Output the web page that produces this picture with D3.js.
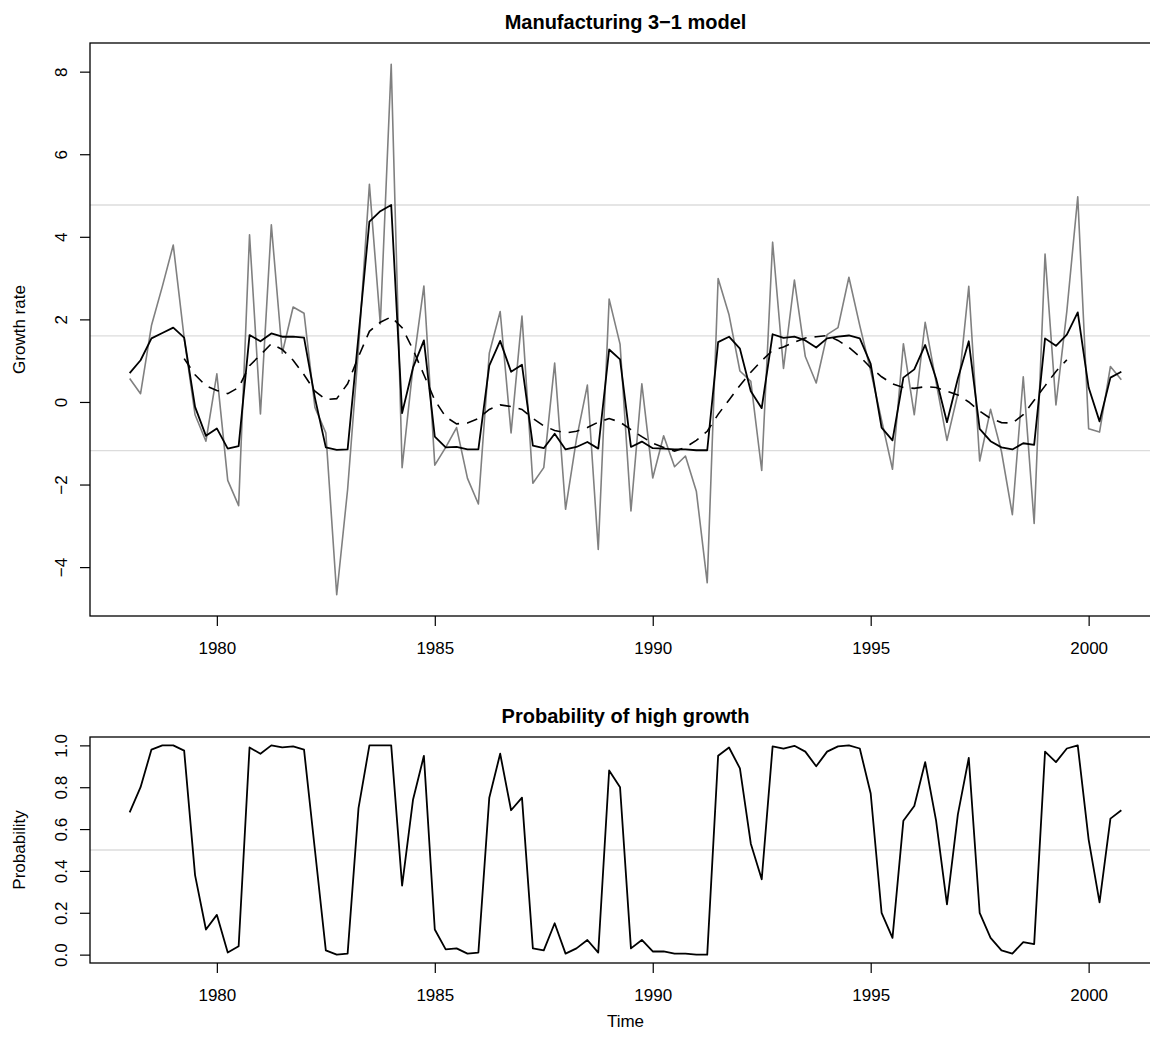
<!DOCTYPE html>
<html>
<head>
<meta charset="utf-8">
<script src="https://cdn.jsdelivr.net/npm/d3@7"></script>
<style>
  html, body { margin: 0; padding: 0; background: #ffffff; }
  svg { display: block; }
  text { font-family: "Liberation Sans", Arial, Helvetica, sans-serif; fill: #000; }
</style>
</head>
<body>
<svg id="chart" width="1150" height="1041"></svg>
<script>
// ---------------- DATA (quarterly, starting 1978 Q1) ----------------
const startYear = 1978;
const frequency = 4;

const mainTitle = "Manufacturing 3\u22121 model";
const subTitle = "Probability of high growth";
const yLabelTop = "Growth rate";
const yLabelBottom = "Probability";
const xLabel = "Time";

// observed growth rate (grey)
const observed = [
  0.57, 0.20, 1.85, 2.80, 3.80, 1.55, -0.31, -0.95, 0.68, -1.90,
  -2.51, 4.05, -0.29, 4.29, 1.18, 2.30, 2.15, -0.13, -0.75, -4.67,
  -2.12, 1.30, 5.27, 1.89, 8.18, -1.59, 0.85, 2.81, -1.53, -1.10,
  -0.62, -1.85, -2.47, 1.18, 2.19, -0.75, 2.08, -1.97, -1.59, 0.94,
  -2.60, -0.90, 0.41, -3.57, 2.49, 1.40, -2.64, 0.44, -1.84, -0.82,
  -1.57, -1.31, -2.16, -4.38, 2.99, 2.11, 0.75, 0.50, -1.66, 3.87,
  0.81, 2.95, 1.10, 0.46, 1.63, 1.80, 3.02, 1.85, 0.75, -0.44,
  -1.63, 1.41, -0.31, 1.93, 0.48, -0.93, 0.20, 2.80, -1.43, -0.18,
  -1.20, -2.73, 0.61, -2.94, 3.58, -0.07, 2.20, 4.97, -0.65, -0.73,
  0.86, 0.54
];

// fitted values (black)
const fitted = [
  0.70, 1.01, 1.54, 1.67, 1.80, 1.56, -0.12, -0.82, -0.64, -1.13,
  -1.07, 1.62, 1.47, 1.66, 1.58, 1.58, 1.56, 0.10, -1.10, -1.16,
  -1.15, 1.60, 4.37, 4.62, 4.77, -0.27, 0.83, 1.49, -0.84, -1.10,
  -1.09, -1.15, -1.15, 0.88, 1.48, 0.73, 0.90, -1.06, -1.12, -0.77,
  -1.15, -1.09, -0.97, -1.13, 1.27, 1.03, -1.09, -0.96, -1.12, -1.13,
  -1.15, -1.15, -1.17, -1.17, 1.45, 1.58, 1.29, 0.26, -0.15, 1.64,
  1.55, 1.58, 1.49, 1.32, 1.54, 1.58, 1.61, 1.54, 0.92, -0.62,
  -0.93, 0.59, 0.79, 1.38, 0.57, -0.49, 0.57, 1.47, -0.65, -0.95,
  -1.10, -1.15, -1.00, -1.04, 1.54, 1.36, 1.63, 2.17, 0.35, -0.47,
  0.59, 0.73
];

// smoothed trend (dashed); null where not defined
const trend = [
  null, null, null, null, null, 1.05, 0.66, 0.39, 0.28, 0.20,
  0.35, 0.88, 1.14, 1.41, 1.27, 1.01, 0.66, 0.26, 0.06, 0.08,
  0.44, 1.10, 1.71, 1.93, 2.06, 1.80, 1.27, 0.66, 0.04, -0.36,
  -0.53, -0.51, -0.40, -0.18, -0.07, -0.11, -0.18, -0.40, -0.58, -0.69,
  -0.75, -0.71, -0.62, -0.49, -0.40, -0.49, -0.67, -0.84, -1.00, -1.10,
  -1.19, -1.10, -0.93, -0.71, -0.30, 0.05, 0.40, 0.72, 1.00, 1.25,
  1.33, 1.45, 1.55, 1.58, 1.61, 1.49, 1.32, 1.10, 0.83, 0.61,
  0.44, 0.35, 0.33, 0.37, 0.35, 0.26, 0.17, 0.00, -0.22, -0.40,
  -0.50, -0.51, -0.31, 0.04, 0.39, 0.74, 1.02, null, null, null,
  null, null
];

// regime means (light grey reference lines)
const regimeMeans = [4.77, 1.60, -1.18];
const probRef = [0.5];

// probability of high growth
const probability = [
  0.68, 0.80, 0.98, 1.00, 1.00, 0.975, 0.38, 0.12, 0.19, 0.01,
  0.04, 0.99, 0.96, 1.00, 0.99, 0.995, 0.98, 0.50, 0.02, 0.00,
  0.005, 0.70, 1.00, 1.00, 1.00, 0.33, 0.74, 0.95, 0.12, 0.025,
  0.03, 0.005, 0.01, 0.75, 0.96, 0.69, 0.75, 0.03, 0.02, 0.15,
  0.005, 0.03, 0.07, 0.01, 0.88, 0.80, 0.03, 0.07, 0.015, 0.015,
  0.005, 0.005, 0.00, 0.00, 0.95, 0.99, 0.89, 0.53, 0.36, 0.995,
  0.985, 0.998, 0.97, 0.90, 0.97, 0.995, 1.00, 0.985, 0.77, 0.20,
  0.08, 0.64, 0.71, 0.92, 0.64, 0.24, 0.67, 0.94, 0.20, 0.08,
  0.02, 0.005, 0.06, 0.05, 0.97, 0.92, 0.985, 1.00, 0.55, 0.25,
  0.65, 0.69
];

const xTicks = [1980, 1985, 1990, 1995, 2000];
const yTicksTop = [-4, -2, 0, 2, 4, 6, 8];
const yTicksBottom = [0, 0.2, 0.4, 0.6, 0.8, 1.0];

// ---------------- LAYOUT ----------------
const svg = d3.select("#chart");
svg.append("rect").attr("width", 1150).attr("height", 1041).attr("fill", "#fff");

const plotLeft = 90, plotRight = 1161;
const topPanel = { top: 43, bottom: 616 };
const botPanel = { top: 737, bottom: 963 };
const FONT = 17;

const time = observed.map((_, i) => startYear + i / frequency);

function padDomain(lo, hi) {
  const p = (hi - lo) * 0.04;
  return [lo - p, hi + p];
}

const x = d3.scaleLinear()
  .domain(padDomain(d3.min(time), d3.max(time)))
  .range([plotLeft, plotRight]);

const allTop = observed.concat(fitted);
const yTop = d3.scaleLinear()
  .domain(padDomain(d3.min(allTop), d3.max(allTop)))
  .range([topPanel.bottom, topPanel.top]);

const yBot = d3.scaleLinear()
  .domain(padDomain(0, 1))
  .range([botPanel.bottom, botPanel.top]);

function drawPanel(panel, yScale, yTicks, yFmt, title, ylab, showXlab) {
  const g = svg.append("g");
  const cx = (plotLeft + plotRight) / 2;

  // x axis
  const xa = g.append("g")
    .attr("transform", `translate(0,${panel.bottom})`)
    .call(d3.axisBottom(x).tickValues(xTicks).tickFormat(d3.format("d")).tickSize(10));
  xa.select(".domain").remove();
  xa.selectAll(".tick line").attr("stroke", "#000").attr("stroke-width", 1.2);
  xa.selectAll(".tick text")
    .attr("y", 38).attr("dy", 0)
    .style("font-size", FONT + "px")
    .attr("fill", "#000");

  // y axis
  const ya = g.append("g")
    .attr("transform", `translate(${plotLeft},0)`)
    .call(d3.axisLeft(yScale).tickValues(yTicks).tickFormat(yFmt).tickSize(10));
  ya.select(".domain").remove();
  ya.selectAll(".tick line").attr("stroke", "#000").attr("stroke-width", 1.2);
  ya.selectAll(".tick text")
    .attr("transform", "rotate(-90)")
    .attr("x", 0).attr("y", -23).attr("dy", 0)
    .style("text-anchor", "middle")
    .style("font-size", FONT + "px")
    .attr("fill", "#000");

  // title
  g.append("text")
    .attr("x", cx).attr("y", panel.top - 14)
    .attr("text-anchor", "middle")
    .style("font-size", "20px").style("font-weight", "bold")
    .text(title);

  // y label
  g.append("text")
    .attr("transform", `translate(25,${(panel.top + panel.bottom) / 2}) rotate(-90)`)
    .attr("text-anchor", "middle")
    .style("font-size", FONT + "px")
    .text(ylab);

  if (showXlab) {
    g.append("text")
      .attr("x", cx).attr("y", panel.bottom + 64)
      .attr("text-anchor", "middle")
      .style("font-size", FONT + "px")
      .text(xLabel);
  }
  return g;
}

function drawBox(panel) {
  svg.append("rect")
    .attr("x", plotLeft).attr("y", panel.top)
    .attr("width", plotRight - plotLeft).attr("height", panel.bottom - panel.top)
    .attr("fill", "none").attr("stroke", "#000").attr("stroke-width", 1.3);
}

// ---------- top panel ----------
const gTop = drawPanel(topPanel, yTop, yTicksTop, d3.format("d"), mainTitle, yLabelTop, false);

gTop.selectAll("line.ref").data(regimeMeans).enter().append("line")
  .attr("class", "ref")
  .attr("x1", plotLeft).attr("x2", plotRight)
  .attr("y1", d => yTop(d)).attr("y2", d => yTop(d))
  .attr("stroke", "#dcdcdc").attr("stroke-width", 1.3);

const lineTop = d3.line()
  .defined(d => d[1] !== null)
  .x(d => x(d[0])).y(d => yTop(d[1]));

gTop.append("path")
  .datum(time.map((t, i) => [t, observed[i]]))
  .attr("d", lineTop)
  .attr("fill", "none").attr("stroke", "#808080").attr("stroke-width", 1.6)
  .attr("stroke-linejoin", "round");

gTop.append("path")
  .datum(time.map((t, i) => [t, trend[i]]))
  .attr("d", lineTop)
  .attr("fill", "none").attr("stroke", "#000").attr("stroke-width", 1.6)
  .attr("stroke-dasharray", "11,8");

gTop.append("path")
  .datum(time.map((t, i) => [t, fitted[i]]))
  .attr("d", lineTop)
  .attr("fill", "none").attr("stroke", "#000").attr("stroke-width", 1.8)
  .attr("stroke-linejoin", "round");

drawBox(topPanel);

// ---------- bottom panel ----------
const gBot = drawPanel(botPanel, yBot, yTicksBottom, d3.format(".1f"), subTitle, yLabelBottom, true);

gBot.selectAll("line.ref").data(probRef).enter().append("line")
  .attr("class", "ref")
  .attr("x1", plotLeft).attr("x2", plotRight)
  .attr("y1", d => yBot(d)).attr("y2", d => yBot(d))
  .attr("stroke", "#dcdcdc").attr("stroke-width", 1.3);

const lineBot = d3.line().x(d => x(d[0])).y(d => yBot(d[1]));
gBot.append("path")
  .datum(time.map((t, i) => [t, probability[i]]))
  .attr("d", lineBot)
  .attr("fill", "none").attr("stroke", "#000").attr("stroke-width", 1.8)
  .attr("stroke-linejoin", "round");

drawBox(botPanel);
</script>
</body>
</html>
